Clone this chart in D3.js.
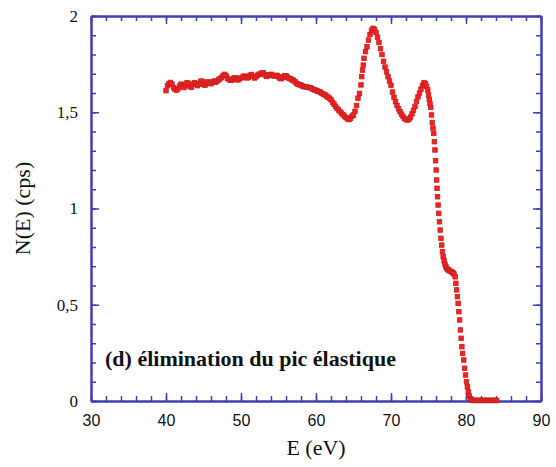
<!DOCTYPE html>
<html>
<head>
<meta charset="utf-8">
<script src="https://cdn.jsdelivr.net/npm/d3@7"></script>
<style>
  body { margin: 0; background: #fff; }
</style>
</head>
<body>
<svg id="chart" width="556" height="467"></svg>
<script>
// spectrum: energy (eV) and N(E) (cps)
const energy = [
  40.0, 40.2, 40.4, 40.6, 40.8, 41.0, 41.2, 41.4, 41.6, 41.8,
  42.0, 42.2, 42.4, 42.6, 42.8, 43.0, 43.2, 43.4, 43.6, 43.8,
  44.0, 44.2, 44.4, 44.6, 44.8, 45.0, 45.2, 45.4, 45.6, 45.8,
  46.0, 46.2, 46.4, 46.6, 46.8, 47.0, 47.2, 47.4, 47.6, 47.8,
  48.0, 48.2, 48.4, 48.6, 48.8, 49.0, 49.2, 49.4, 49.6, 49.8,
  50.0, 50.2, 50.4, 50.6, 50.8, 51.0, 51.2, 51.4, 51.6, 51.8,
  52.0, 52.2, 52.4, 52.6, 52.8, 53.0, 53.2, 53.4, 53.6, 53.8,
  54.0, 54.2, 54.4, 54.6, 54.8, 55.0, 55.2, 55.4, 55.6, 55.8,
  56.0, 56.2, 56.4, 56.6, 56.8, 57.0, 57.2, 57.4, 57.6, 57.8,
  58.0, 58.2, 58.4, 58.6, 58.8, 59.0, 59.2, 59.4, 59.6, 59.8,
  60.0, 60.2, 60.4, 60.6, 60.8, 61.0, 61.2, 61.4, 61.6, 61.8,
  62.0, 62.2, 62.4, 62.6, 62.8, 63.0, 63.2, 63.4, 63.6, 63.8,
  64.0, 64.2, 64.4, 64.6, 64.8, 65.0,
  65.2, 65.4, 65.6, 65.8, 66.0, 66.1, 66.2, 66.3, 66.4, 66.6,
  66.8, 67.0, 67.2, 67.4, 67.6, 67.8, 68.0, 68.2, 68.4, 68.6,
  68.8, 69.0, 69.2, 69.4, 69.6, 69.8, 70.0, 70.2, 70.4, 70.6,
  70.8, 71.0, 71.2, 71.4, 71.6, 71.8, 72.0, 72.2, 72.4, 72.6,
  72.8, 73.0, 73.2, 73.4, 73.6, 73.8, 74.0, 74.2, 74.4,
  74.6, 74.75, 74.9, 75.0, 75.1, 75.2, 75.3, 75.4, 75.5, 75.6,
  75.7, 75.78, 75.86, 75.94, 76.02, 76.08, 76.14, 76.2, 76.28, 76.36,
  76.46, 76.56, 76.66, 76.76, 76.86, 76.96, 77.08, 77.2, 77.32, 77.45,
  77.6, 77.75, 77.9, 78.05, 78.2, 78.3,
  78.4, 78.55, 78.65, 78.75, 78.85, 78.95, 79.05, 79.15, 79.25, 79.35,
  79.45, 79.55, 79.7, 79.82, 79.94, 80.06, 80.18, 80.3, 80.45, 80.6,
  80.75,
  80.9, 81.1, 81.3, 81.5, 81.7, 81.9, 82.1, 82.3, 82.5, 82.7,
  82.9, 83.1, 83.3, 83.5, 83.7, 83.9, 84.1
];
const counts = [
  1.612, 1.638, 1.648, 1.655, 1.646, 1.628, 1.620, 1.615, 1.622, 1.636,
  1.646, 1.636, 1.628, 1.642, 1.654, 1.650, 1.634, 1.630, 1.646, 1.654,
  1.648, 1.638, 1.646, 1.660, 1.662, 1.646, 1.640, 1.652, 1.658, 1.650,
  1.648, 1.656, 1.662, 1.656, 1.662, 1.668, 1.674, 1.680, 1.690, 1.697,
  1.690, 1.676, 1.670, 1.666, 1.667, 1.676, 1.680, 1.672, 1.668, 1.674,
  1.678, 1.682, 1.688, 1.684, 1.678, 1.682, 1.692, 1.696, 1.686, 1.678,
  1.684, 1.692, 1.697, 1.700, 1.704, 1.704, 1.694, 1.686, 1.690, 1.695,
  1.697, 1.692, 1.688, 1.690, 1.692, 1.684, 1.676, 1.674, 1.682, 1.690,
  1.690, 1.682, 1.676, 1.674, 1.668, 1.666, 1.658, 1.650, 1.646, 1.643,
  1.641, 1.636, 1.633, 1.632, 1.630, 1.629, 1.628, 1.624, 1.620, 1.616,
  1.614, 1.610, 1.607, 1.604, 1.598, 1.594, 1.590, 1.584, 1.578, 1.573,
  1.565, 1.552, 1.542, 1.530, 1.520, 1.512, 1.504, 1.495, 1.487, 1.480,
  1.472, 1.466, 1.462, 1.468, 1.480, 1.486,
  1.505, 1.535, 1.573, 1.598, 1.642, 1.685, 1.719, 1.745, 1.780, 1.815,
  1.840, 1.875, 1.904, 1.925, 1.936, 1.930, 1.915, 1.890, 1.862, 1.830,
  1.800, 1.765, 1.735, 1.710, 1.685, 1.662, 1.640, 1.605, 1.578, 1.555,
  1.535, 1.518, 1.503, 1.490, 1.478, 1.468, 1.462, 1.460, 1.464, 1.475,
  1.492, 1.510, 1.530, 1.556, 1.580, 1.600, 1.620, 1.640, 1.653,
  1.648, 1.635, 1.616, 1.590, 1.567, 1.545, 1.525, 1.486, 1.446, 1.418,
  1.390, 1.347, 1.304, 1.248, 1.200, 1.148, 1.105, 1.061, 1.018, 0.975,
  0.931, 0.888, 0.845, 0.810, 0.776, 0.750, 0.728, 0.710, 0.698, 0.688,
  0.682, 0.678, 0.674, 0.672, 0.668, 0.664,
  0.660, 0.645, 0.611, 0.577, 0.542, 0.507, 0.464, 0.421, 0.369, 0.326,
  0.282, 0.247, 0.213, 0.170, 0.135, 0.100, 0.074, 0.048, 0.026, 0.012,
  0.005,
  0.003, 0.003, 0.003, 0.003, 0.003, 0.003, 0.003, 0.003, 0.003, 0.003,
  0.003, 0.003, 0.003, 0.003, 0.003, 0.003, 0.003
];

const xTicks = [30, 40, 50, 60, 70, 80, 90];
const yTicks = [0, 0.5, 1, 1.5, 2];
const yTickLabels = ["0", "0,5", "1", "1,5", "2"];
const xTitle = "E (eV)";
const yTitle = "N(E) (cps)";
const note = "(d) élimination du pic élastique";

const SERIF = '"Liberation Serif"';
const SANS = '"Liberation Sans"';

const margin = { top: 16, right: 15, bottom: 66, left: 91 };
const width = 556 - margin.left - margin.right;
const height = 467 - margin.top - margin.bottom;
const axisColor = "#4040b0";

const svg = d3.select("#chart");
const g = svg.append("g").attr("transform", `translate(${margin.left}, ${margin.top})`);

const x = d3.scaleLinear().domain([30, 90]).range([0, width]);
const y = d3.scaleLinear().domain([0, 2]).range([height, 0]);

function styleAxis(sel) {
  sel.select(".domain").attr("stroke", axisColor).attr("stroke-width", 2);
  sel.selectAll(".tick line").attr("stroke", axisColor).attr("stroke-width", 1.5);
  sel.selectAll(".tick text").attr("fill", "#111");
}

// minor ticks (all four sides, inward)
g.append("g").attr("transform", `translate(0, ${height})`)
  .call(d3.axisBottom(x).tickValues(x.ticks(30)).tickSize(-5).tickFormat("").tickSizeOuter(0))
  .call(styleAxis);
g.append("g")
  .call(d3.axisTop(x).tickValues(x.ticks(30)).tickSize(-5).tickFormat("").tickSizeOuter(0))
  .call(styleAxis);
g.append("g")
  .call(d3.axisLeft(y).tickValues(y.ticks(20)).tickSize(-5).tickFormat("").tickSizeOuter(0))
  .call(styleAxis);
g.append("g").attr("transform", `translate(${width}, 0)`)
  .call(d3.axisRight(y).tickValues(y.ticks(20)).tickSize(-5).tickFormat("").tickSizeOuter(0))
  .call(styleAxis);

// major ticks
g.append("g").attr("transform", `translate(0, ${height})`)
  .call(d3.axisBottom(x).tickValues(xTicks).tickSize(-8).tickPadding(14).tickSizeOuter(0))
  .call(styleAxis)
  .call(a => a.selectAll(".tick text").style("font-family", SANS).style("font-size", "16px"));
g.append("g")
  .call(d3.axisTop(x).tickValues(xTicks).tickSize(-8).tickFormat("").tickSizeOuter(0))
  .call(styleAxis);
g.append("g")
  .call(d3.axisLeft(y).tickValues(yTicks).tickSize(-8).tickPadding(13)
    .tickFormat((d, i) => yTickLabels[i]).tickSizeOuter(0))
  .call(styleAxis)
  .call(a => a.selectAll(".tick text").style("font-family", SERIF).style("font-size", "17px"));
g.append("g").attr("transform", `translate(${width}, 0)`)
  .call(d3.axisRight(y).tickValues(yTicks).tickSize(-8).tickFormat("").tickSizeOuter(0))
  .call(styleAxis);

// data markers
g.selectAll(".pt")
  .data(energy.map((e, i) => ({ e: e, n: counts[i] })))
  .enter()
  .append("rect")
  .attr("class", "pt")
  .attr("x", d => x(d.e) - 2.25)
  .attr("y", d => y(d.n) - 2.25)
  .attr("width", 4.5)
  .attr("height", 4.5)
  .attr("fill", "#ff2020")
  .attr("stroke", "#c02020")
  .attr("stroke-width", 0.8);

// titles
svg.append("text")
  .attr("x", margin.left + width / 2)
  .attr("y", 455)
  .attr("text-anchor", "middle")
  .style("font-family", SERIF)
  .style("font-size", "22px")
  .attr("fill", "#111")
  .text(xTitle);

svg.append("text")
  .attr("transform", `translate(30, ${margin.top + height / 2}) rotate(-90)`)
  .attr("text-anchor", "middle")
  .style("font-family", SERIF)
  .style("font-size", "22px")
  .attr("fill", "#111")
  .text(yTitle);

svg.append("text")
  .attr("x", 105)
  .attr("y", 366)
  .style("font-family", SERIF)
  .style("font-weight", "bold")
  .style("font-size", "22px")
  .attr("fill", "#111")
  .text(note);
</script>
</body>
</html>
